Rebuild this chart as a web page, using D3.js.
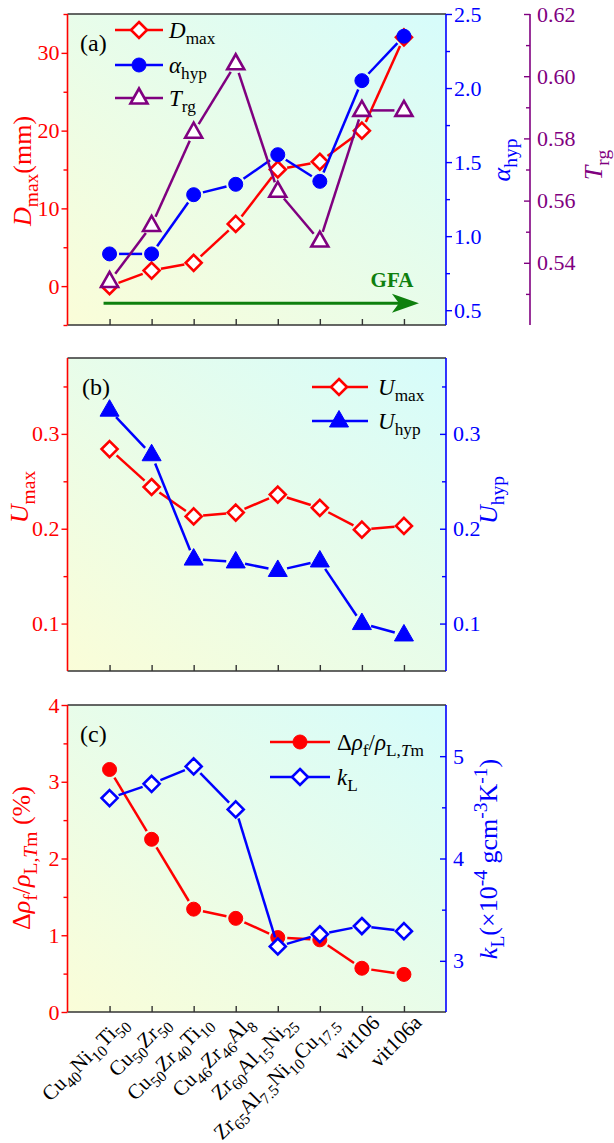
<!DOCTYPE html>
<html>
<head>
<meta charset="utf-8">
<title>Glass forming ability panels</title>
<style>
    body { margin: 0; background: #fff; }
    svg text { font-family: 'Liberation Serif', 'Times New Roman', serif; }
</style>
</head>
<body>
<script src="https://d3js.org/d3.v7.min.js"></script>
<script type="text/javascript">

// alloys on the shared x axis ( _{..} = subscript, *..* = italic )
var categories = ["Cu_{40}Ni_{10}Ti_{50}", "Cu_{50}Zr_{50}", "Cu_{50}Zr_{40}Ti_{10}", "Cu_{46}Zr_{46}Al_{8}",
                  "Zr_{60}Al_{15}Ni_{25}", "Zr_{65}Al_{7.5}Ni_{10}Cu_{17.5}", "vit106", "vit106a"];

// panel (a)
var dMax     = [0, 2, 3, 8, 15, 16, 20, 32];
var alphaHyp = [0.88, 0.88, 1.28, 1.35, 1.55, 1.37, 2.05, 2.35];
var tRg      = [0.534, 0.552, 0.582, 0.604, 0.563, 0.547, 0.589, 0.589];
// panel (b)
var uMax = [0.284, 0.244, 0.213, 0.217, 0.236, 0.222, 0.199, 0.203];
var uHyp = [0.325, 0.278, 0.168, 0.165, 0.156, 0.166, 0.100, 0.088];
// panel (c)
var dRho = [3.16, 2.25, 1.34, 1.22, 0.97, 0.94, 0.57, 0.49];
var kL   = [4.59, 4.73, 4.90, 4.48, 3.14, 3.26, 3.34, 3.29];

// tick values
var dMaxTicks  = [0, 10, 20, 30],        dMaxMinor  = [-5, 5, 15, 25, 35];
var alphaTicks = [0.5, 1.0, 1.5, 2.0, 2.5], alphaMinor = [0.75, 1.25, 1.75, 2.25];
var tRgTicks   = [0.54, 0.56, 0.58, 0.60, 0.62], tRgMinor = [0.53, 0.55, 0.57, 0.59, 0.61];
var uTicks     = [0.1, 0.2, 0.3],        uMinor     = [0.15, 0.25, 0.35];
var rhoTicks   = [0, 1, 2, 3, 4],        rhoMinor   = [0.5, 1.5, 2.5, 3.5];
var kTicks     = [3, 4, 5],              kMinor     = [3.5, 4.5];

var legendA = ["*D*_{max}", "*α*_{hyp}", "*T*_{rg}"];
var legendB = ["*U*_{max}", "*U*_{hyp}"];
var legendC = ["Δ*ρ*_{f}/*ρ*_{L,*T*m}", "*k*_{L}"];

var RED = "#ff0000", BLUE = "#0000ff", PURPLE = "#800080", GREEN = "#0e800e", FRAME = "#333";

var X0 = 67.5, X1 = 446;

var svg = d3.select("body").append("svg")
    .attr("width", 614)
    .attr("height", 1143);

var grad = svg.append("defs").append("linearGradient")
    .attr("id", "bg")
    .attr("x1", 0).attr("y1", 1).attr("x2", 1).attr("y2", 0);
grad.append("stop").attr("offset", 0).attr("stop-color", "#fafdd8");
grad.append("stop").attr("offset", 1).attr("stop-color", "#d6fcfb");

var x = d3.scalePoint()
    .domain(d3.range(categories.length))
    .range([X0, X1])
    .padding(1);

// tiny markup parser for sub/superscripts and italics
function parseRich(str) {
    var out = [], it = false, lvl = 0, buf = "";
    function flush() { if (buf) { out.push({t: buf, it: it, lvl: lvl}); buf = ""; } }
    for (var i = 0; i < str.length; i++) {
        var c = str[i];
        if (c === "*") { flush(); it = !it; }
        else if ((c === "_" || c === "^") && str[i + 1] === "{") { flush(); lvl = c === "_" ? -1 : 1; i++; }
        else if (c === "}" && lvl !== 0) { flush(); lvl = 0; }
        else buf += c;
    }
    flush();
    return out;
}

function rich(text, str, size) {
    var shift = 0;
    parseRich(str).forEach(function(p) {
        var target = p.lvl < 0 ? size * 0.28 : p.lvl > 0 ? -size * 0.4 : 0;
        text.append("tspan")
            .attr("dy", target - shift)
            .attr("font-size", p.lvl ? size * 0.75 : size)
            .attr("font-style", p.it ? "italic" : null)
            .text(p.t);
        shift = target;
    });
    return text;
}

function frame(top, bottom, leftColor, rightColor) {
    var g = svg.append("g");
    g.append("rect")
        .attr("x", X0).attr("y", top)
        .attr("width", X1 - X0).attr("height", bottom - top)
        .attr("fill", "url(#bg)");
    g.append("line").attr("x1", X0).attr("x2", X1).attr("y1", top).attr("y2", top)
        .attr("stroke", FRAME).attr("stroke-width", 1.6);
    var bx = g.append("g")
        .attr("transform", "translate(0," + bottom + ")")
        .call(d3.axisBottom(x).tickSize(-6).tickFormat(""));
    bx.select(".domain").attr("d", "M" + X0 + ",0H" + X1).attr("stroke", FRAME).attr("stroke-width", 1.6);
    bx.selectAll(".tick line").attr("stroke", FRAME).attr("stroke-width", 1.4);
    g.append("line").attr("x1", X0).attr("x2", X0).attr("y1", top).attr("y2", bottom)
        .attr("stroke", leftColor).attr("stroke-width", 1.6);
    g.append("line").attr("x1", X1).attr("x2", X1).attr("y1", top).attr("y2", bottom)
        .attr("stroke", rightColor).attr("stroke-width", 1.6);
    return g;
}

function yAxis(xpos, scale, major, minor, color, side, inward, fmt) {
    var make = side === "left" ? d3.axisLeft : d3.axisRight;
    var dir = inward ? -1 : 1;
    var g = svg.append("g").attr("transform", "translate(" + xpos + ",0)");
    g.append("g").call(make(scale).tickValues(minor).tickSize(4 * dir).tickFormat(""))
        .call(function(s) { s.select(".domain").remove(); })
        .selectAll("line").attr("stroke", color).attr("stroke-width", 1.4);
    var ax = g.append("g").call(make(scale).tickValues(major).tickSize(6 * dir)
        .tickPadding(inward ? 7 : 2).tickFormat(d3.format(fmt)));
    ax.select(".domain").remove();
    ax.selectAll("line").attr("stroke", color).attr("stroke-width", 1.4);
    ax.selectAll("text").attr("fill", color).attr("font-size", 22)
        .attr("font-family", "'Liberation Serif', serif");
    return g;
}

function title(xpos, ypos, str, color, size) {
    rich(svg.append("text")
        .attr("transform", "translate(" + xpos + "," + ypos + ") rotate(-90)")
        .attr("text-anchor", "middle")
        .attr("fill", color), str, size || 26);
}

var diamond = "M0,-8L8,0L0,8L-8,0Z";
var circle = d3.symbol(d3.symbolCircle, Math.PI * 49)();
var triOpen = "M0,-9.5L8.5,5.5L-8.5,5.5Z";
var triFull = "M0,-10.5L9.5,6L-9.5,6Z";

function series(values, y, color, shape, filled) {
    var g = svg.append("g");
    var pts = values.map(function(v, i) { return [x(i), y(v)]; });
    var gap = 9.5;
    g.selectAll("line")
        .data(d3.pairs(pts))
        .join("line")
        .each(function(d) {
            var dx = d[1][0] - d[0][0], dy = d[1][1] - d[0][1];
            var len = Math.sqrt(dx * dx + dy * dy), ux = dx / len, uy = dy / len;
            d3.select(this)
                .attr("x1", d[0][0] + ux * gap).attr("y1", d[0][1] + uy * gap)
                .attr("x2", d[1][0] - ux * gap).attr("y2", d[1][1] - uy * gap);
        })
        .attr("stroke", color).attr("stroke-width", 2.5);
    g.selectAll("path")
        .data(values)
        .join("path")
        .attr("transform", function(d, i) { return "translate(" + x(i) + "," + y(d) + ")"; })
        .attr("d", shape)
        .attr("fill", filled ? color : "#fff")
        .attr("stroke", color)
        .attr("stroke-width", filled ? 1 : 2.6);
}

function legend(lx, rows, labels, colors, shapes, fills, x0, x1, tx) {
    labels.forEach(function(lab, i) {
        var g = svg.append("g");
        g.append("line").attr("x1", x0).attr("x2", x1).attr("y1", rows[i]).attr("y2", rows[i])
            .attr("stroke", colors[i]).attr("stroke-width", 2.5);
        g.append("path").attr("transform", "translate(" + lx + "," + rows[i] + ")")
            .attr("d", shapes[i])
            .attr("fill", fills[i] ? colors[i] : "#fff")
            .attr("stroke", colors[i]).attr("stroke-width", fills[i] ? 1 : 2.6);
        rich(g.append("text").attr("x", tx).attr("y", rows[i] + 8).attr("fill", "#000"), lab, 23);
    });
}

function panelTag(px, py, str) {
    svg.append("text").attr("x", px).attr("y", py).attr("font-size", 24).attr("fill", "#000").text(str);
}

// ---------- panel (a) ----------
var aTop = 14, aBot = 325;
var yD = d3.scaleLinear().domain([-5, 35]).range([aBot, aTop]);
var yAl = d3.scaleLinear().domain([0.4, 2.5]).range([aBot, aTop]);
var yT = d3.scaleLinear().domain([0.52, 0.62]).range([aBot, aTop]);

frame(aTop, aBot, RED, BLUE);
yAxis(X0, yD, dMaxTicks, dMaxMinor, RED, "left", false, "d");
yAxis(X1, yAl, alphaTicks, alphaMinor, BLUE, "right", false, ".1f");
yAxis(530, yT, tRgTicks, tRgMinor, PURPLE, "right", true, ".2f");
svg.append("line").attr("x1", 530).attr("x2", 530).attr("y1", aTop).attr("y2", aBot)
    .attr("stroke", PURPLE).attr("stroke-width", 1.6);

// GFA arrow
var arrowY = yD(-2.2), tip = x(7) + 15;
svg.append("line").attr("x1", x(0) - 6).attr("x2", tip - 12).attr("y1", arrowY).attr("y2", arrowY)
    .attr("stroke", GREEN).attr("stroke-width", 3);
svg.append("path")
    .attr("d", "M" + tip + "," + arrowY + "l-27,-9.5l7,9.5l-7,9.5z")
    .attr("fill", GREEN);
svg.append("text").attr("x", tip - 27).attr("y", arrowY - 16)
    .attr("text-anchor", "middle").attr("font-weight", "bold").attr("font-size", 21)
    .attr("fill", GREEN).text("GFA");

series(dMax, yD, RED, diamond, false);
series(alphaHyp, yAl, BLUE, circle, true);
series(tRg, yT, PURPLE, triOpen, false);

legend(139, [30, 65, 98], legendA, [RED, BLUE, PURPLE], [diamond, circle, triOpen], [false, true, false], 115, 163, 169);
panelTag(80, 51, "(a)");
title(31, 171, "*D*_{max}(mm)", RED);
title(510, 160, "*α*_{hyp}", BLUE);
title(602, 165, "*T*_{rg}", PURPLE);

// ---------- panel (b) ----------
var bTop = 358, bBot = 671;
var yU = d3.scaleLinear().domain([0.05, 0.38]).range([bBot, bTop]);

frame(bTop, bBot, RED, BLUE);
yAxis(X0, yU, uTicks, uMinor, RED, "left", false, ".1f");
yAxis(X1, yU, uTicks, uMinor, BLUE, "right", true, ".1f");

series(uMax, yU, RED, diamond, false);
series(uHyp, yU, BLUE, triFull, true);

legend(339, [387, 421], legendB, [RED, BLUE], [diamond, triFull], [false, true], 312, 368, 378);
panelTag(82, 395, "(b)");
title(28, 497, "*U*_{max}", RED);
title(497, 500, "*U*_{hyp}", BLUE);

// ---------- panel (c) ----------
var cTop = 705, cBot = 1012;
var yR = d3.scaleLinear().domain([0, 4]).range([cBot, cTop]);
var yK = d3.scaleLinear().domain([2.5, 5.5]).range([cBot, cTop]);

frame(cTop, cBot, RED, BLUE);
yAxis(X0, yR, rhoTicks, rhoMinor, RED, "left", false, "d");
yAxis(X1, yK, kTicks, kMinor, BLUE, "right", true, "d");

series(dRho, yR, RED, circle, true);
series(kL, yK, BLUE, diamond, false);

legend(300, [742, 777], legendC, [RED, BLUE], [circle, diamond], [true, false], 270, 330, 337);
panelTag(80, 742, "(c)");
title(30, 858, "Δ*ρ*_{f}/*ρ*_{L,*T*m} (%)", RED);
title(497, 859, "*k*_{L}(×10^{-4} gcm^{-3}K^{-1})", BLUE);

// rotated alloy names under panel (c)
categories.forEach(function(c, i) {
    rich(svg.append("text")
        .attr("transform", "translate(" + (x(i) + 19) + "," + (cBot + 12) + ") rotate(-45)")
        .attr("text-anchor", "end")
        .attr("fill", "#000"), c, 21);
});

</script>
</body>
</html>
